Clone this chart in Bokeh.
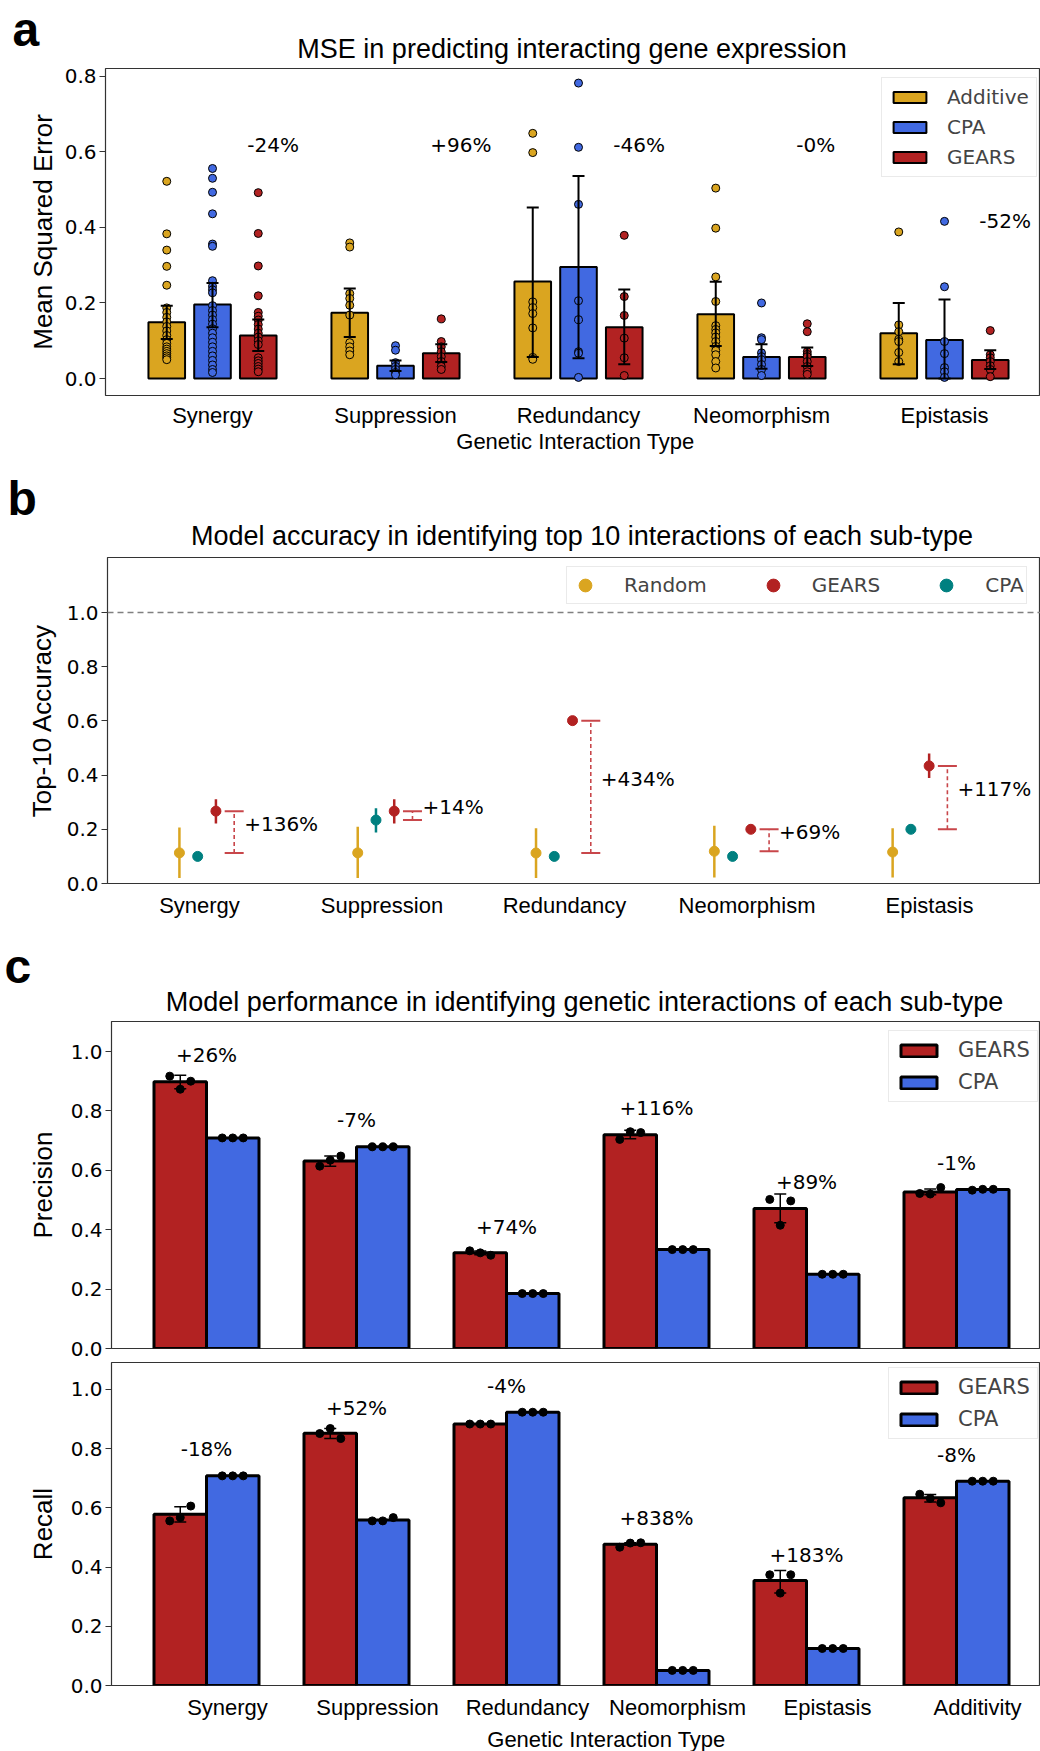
import numpy as np
from bokeh.plotting import figure
from bokeh.layouts import column
from bokeh.models import (Range1d, FixedTicker, PrintfTickFormatter, CustomJSTickFormatter,
                          Label, Legend, LegendItem, Span)
from bokeh.core.properties import value
from bokeh.embed import file_html
from bokeh.resources import INLINE

# ---------------------------------------------------------------- data
# (a) MSE per interaction type
mse_types = ["Synergy", "Suppression", "Redundancy", "Neomorphism", "Epistasis"]
mse_additive = [0.149, 0.174, 0.257, 0.170, 0.120]
mse_cpa = [0.196, 0.034, 0.295, 0.057, 0.102]
mse_gears = [0.114, 0.067, 0.136, 0.057, 0.049]
mse_additive_lo = [0.105, 0.110, 0.057, 0.086, 0.038]
mse_additive_hi = [0.193, 0.238, 0.453, 0.256, 0.200]
mse_cpa_lo = [0.136, 0.020, 0.054, 0.026, 0.000]
mse_cpa_hi = [0.253, 0.048, 0.536, 0.091, 0.209]
mse_gears_lo = [0.073, 0.044, 0.038, 0.033, 0.025]
mse_gears_hi = [0.156, 0.091, 0.236, 0.082, 0.075]
mse_additive_pts = [
    [0.522, 0.383, 0.340, 0.297, 0.247, 0.187, 0.175, 0.162, 0.150, 0.138, 0.126, 0.114,
     0.103, 0.093, 0.084, 0.078, 0.072, 0.066, 0.060, 0.055, 0.050],
    [0.359, 0.348, 0.225, 0.212, 0.194, 0.168, 0.095, 0.084, 0.073, 0.063],
    [0.649, 0.598, 0.203, 0.188, 0.172, 0.134, 0.056, 0.051],
    [0.504, 0.398, 0.269, 0.204, 0.140, 0.130, 0.121, 0.110, 0.098, 0.085, 0.074, 0.063,
     0.045, 0.028],
    [0.388, 0.142, 0.124, 0.104, 0.098, 0.069, 0.045],
]
mse_cpa_pts = [
    [0.556, 0.530, 0.493, 0.436, 0.356, 0.350, 0.259, 0.244, 0.235, 0.227, 0.193, 0.180,
     0.168, 0.156, 0.144, 0.132, 0.120, 0.108, 0.096, 0.084, 0.072, 0.060, 0.048, 0.036,
     0.024, 0.016],
    [0.087, 0.075, 0.042, 0.032, 0.024, 0.016, 0.010],
    [0.782, 0.612, 0.461, 0.206, 0.156, 0.071, 0.067, 0.003],
    [0.200, 0.108, 0.103, 0.068, 0.058, 0.050, 0.037, 0.024, 0.008],
    [0.416, 0.243, 0.098, 0.066, 0.029, 0.018, 0.003],
]
mse_gears_pts = [
    [0.492, 0.384, 0.298, 0.219, 0.175, 0.165, 0.155, 0.143, 0.131, 0.120, 0.110, 0.100,
     0.090, 0.055, 0.047, 0.040, 0.032, 0.025, 0.018],
    [0.158, 0.098, 0.084, 0.071, 0.058, 0.045, 0.032, 0.024],
    [0.379, 0.217, 0.167, 0.107, 0.055, 0.008],
    [0.145, 0.124, 0.071, 0.064, 0.058, 0.045, 0.032, 0.018, 0.011],
    [0.127, 0.063, 0.055, 0.045, 0.034, 0.024, 0.005],
]
mse_change = ["-24%", "+96%", "-46%", "-0%", "-52%"]
mse_change_y = [0.618, 0.618, 0.618, 0.618, 0.416]

# (b) top-10 accuracy
acc_random = [0.113, 0.113, 0.1125, 0.119, 0.116]
acc_random_lo = [0.020, 0.020, 0.020, 0.022, 0.022]
acc_random_hi = [0.207, 0.209, 0.204, 0.213, 0.204]
acc_gears = [0.267, 0.267, 0.601, 0.200, 0.434]
acc_gears_lo = [0.221, 0.221, 0.601, 0.200, 0.389]
acc_gears_hi = [0.311, 0.311, 0.601, 0.200, 0.480]
acc_cpa = [0.100, 0.234, 0.100, 0.100, 0.200]
acc_cpa_lo = [0.100, 0.188, 0.100, 0.100, 0.200]
acc_cpa_hi = [0.100, 0.278, 0.100, 0.100, 0.200]
acc_gain = ["+136%", "+14%", "+434%", "+69%", "+117%"]

# (c) precision / recall
gi_types = ["Synergy", "Suppression", "Redundancy", "Neomorphism", "Epistasis", "Additivity"]
prec_gears = [0.898, 0.631, 0.322, 0.720, 0.471, 0.527]
prec_cpa = [0.709, 0.679, 0.185, 0.333, 0.250, 0.535]
prec_gears_lo = [0.875, 0.614, 0.316, 0.706, 0.423, 0.518]
prec_gears_hi = [0.920, 0.648, 0.328, 0.735, 0.520, 0.537]
prec_gears_pts = [[0.917, 0.873, 0.900], [0.614, 0.634, 0.648], [0.329, 0.322, 0.314],
                  [0.704, 0.730, 0.727], [0.502, 0.415, 0.497], [0.522, 0.520, 0.542]]
prec_cpa_pts = [[0.709, 0.709, 0.709], [0.679, 0.679, 0.679], [0.185, 0.185, 0.185],
                [0.333, 0.333, 0.333], [0.250, 0.250, 0.250], [0.533, 0.536, 0.536]]
prec_change = ["+26%", "-7%", "+74%", "+116%", "+89%", "-1%"]
prec_change_y = [0.988, 0.769, 0.410, 0.810, 0.561, 0.625]

rec_gears = [0.578, 0.852, 0.883, 0.477, 0.355, 0.634]
rec_cpa = [0.708, 0.559, 0.923, 0.051, 0.125, 0.690]
rec_gears_lo = [0.552, 0.834, 0.883, 0.474, 0.312, 0.620]
rec_gears_hi = [0.604, 0.868, 0.883, 0.482, 0.388, 0.645]
rec_gears_pts = [[0.556, 0.567, 0.606], [0.851, 0.868, 0.834], [0.883, 0.883, 0.883],
                 [0.467, 0.481, 0.482], [0.374, 0.312, 0.374], [0.646, 0.632, 0.617]]
rec_cpa_pts = [[0.708, 0.708, 0.708], [0.556, 0.556, 0.567], [0.923, 0.923, 0.923],
               [0.051, 0.051, 0.051], [0.125, 0.125, 0.125], [0.690, 0.690, 0.690]]
rec_change = ["-18%", "+52%", "-4%", "+838%", "+183%", "-8%"]
rec_change_y = [0.798, 0.937, 1.013, 0.565, 0.441, 0.778]

# ---------------------------------------------------------------- style
W = 1040
SANS = "Liberation Sans"
NUM = "DejaVu Sans"
GOLD, BLUE, RED, TEAL = "#DAA520", "#4169E1", "#B22222", "#008080"
SPINE = "#333333"
MID = 0.3465  # centre of the em box above the baseline, in em


def strip(top, height, texts):
    """A plain band of text (panel letters, titles, x-axis captions); page px coords,
    each text given by its baseline."""
    p = figure(width=W, height=height, x_range=Range1d(0, W),
               y_range=Range1d(top + height, top),
               x_axis_location=None, y_axis_location=None,
               output_backend="svg", toolbar_location=None, frame_align=False,
               min_border=0, min_border_left=0, min_border_right=0,
               min_border_top=0, min_border_bottom=0,
               background_fill_color="white", border_fill_color="white")
    p.outline_line_color = None
    p.grid.visible = False
    for x, y, s, size, bold, align in texts:
        p.text(x=[x], y=[y - MID * size], text=[s], text_font=value(SANS),
               text_font_size=f"{size}px",
               text_font_style="bold" if bold else "normal", text_align=align,
               text_baseline="middle", text_color="black")
    return p


class Panel:
    """Figure whose frame sits at known page pixels; maps page px to data."""

    def __init__(self, top, height, frame, x0, sx, y0, sy, label_gap=10):
        left, right, ftop, fbot = frame
        self.x0, self.sx, self.y0, self.sy = x0, sx, y0, sy
        self.fig = figure(
            width=W, height=height,
            x_range=Range1d(self.X(left), self.X(right)),
            y_range=Range1d(self.Y(fbot), self.Y(ftop)),
            output_backend="svg", toolbar_location=None, frame_align=False,
            min_border_left=left, min_border_right=W - right,
            min_border_top=ftop - top, min_border_bottom=top + height - fbot,
            background_fill_color="white", border_fill_color="white",
        )
        p = self.fig
        p.grid.visible = False
        p.outline_line_color = SPINE
        p.outline_line_width = 1.2
        for ax in (p.xaxis[0], p.yaxis[0]):
            ax.axis_line_color = None
            ax.minor_tick_line_color = None
        y = p.yaxis[0]
        y.formatter = PrintfTickFormatter(format="%.1f")
        y.major_label_text_font = NUM
        y.major_label_text_font_size = "20px"
        y.major_label_text_color = "black"
        y.major_tick_out = 6
        y.major_tick_in = 0
        y.major_tick_line_color = SPINE
        y.major_tick_line_width = 1.2
        y.major_label_standoff = 3
        y.axis_label_text_font = SANS
        y.axis_label_text_font_size = "26px"
        y.axis_label_text_font_style = "normal"
        y.axis_label_text_color = "black"
        y.axis_label_standoff = label_gap
        x = p.xaxis[0]
        x.major_tick_line_color = None
        x.major_label_text_font = SANS
        x.major_label_text_font_size = "22px"
        x.major_label_text_color = "black"

    def X(self, px):
        return (px - self.x0) / self.sx

    def Y(self, py):
        return (self.y0 - py) / self.sy


def category_axis(p, ticks, names, standoff):
    ax = p.xaxis[0]
    ax.ticker = FixedTicker(ticks=list(ticks))
    ax.formatter = CustomJSTickFormatter(args=dict(names=names), code="return names[index]")
    ax.major_label_standoff = standoff


def errorbars(p, xs, lo, hi, cap, color, width):
    p.segment(x0=xs, y0=lo, x1=xs, y1=hi, line_color=color, line_width=width)
    p.segment(x0=[x - cap for x in xs], y0=lo, x1=[x + cap for x in xs], y1=lo,
              line_color=color, line_width=width)
    p.segment(x0=[x - cap for x in xs], y0=hi, x1=[x + cap for x in xs], y1=hi,
              line_color=color, line_width=width)


# ---------------------------------------------------------------- panel a
head_a = strip(0, 65, [
    (12, 46, "a", 48, True, "left"),
    (571.5, 58, "MSE in predicting interacting gene expression", 27, False, "center"),
])

A = Panel(top=65, height=365, frame=(105, 1040, 68, 396), x0=212, sx=183, y0=379, sy=379,
          label_gap=4)
pa = A.fig
pa.yaxis.ticker = FixedTicker(ticks=[0.0, 0.2, 0.4, 0.6, 0.8])
pa.yaxis.axis_label = "Mean Squared Error"
category_axis(pa, range(len(mse_types)), mse_types, 1)

series_a = [
    ("Additive", GOLD, -0.25, mse_additive, mse_additive_lo, mse_additive_hi, mse_additive_pts),
    ("CPA", BLUE, 0.0, mse_cpa, mse_cpa_lo, mse_cpa_hi, mse_cpa_pts),
    ("GEARS", RED, 0.25, mse_gears, mse_gears_lo, mse_gears_hi, mse_gears_pts),
]
legend_a = []
for name, col, off, means, lo, hi, pts in series_a:
    xs = [i + off for i in range(len(means))]
    r = pa.vbar(x=xs, top=means, width=0.2, fill_color=col, line_color="black", line_width=2)
    legend_a.append(LegendItem(label=name, renderers=[r]))
    px = [xs[i] for i, grp in enumerate(pts) for _ in grp]
    py = [v for grp in pts for v in grp]
    pa.scatter(px, py, size=8, fill_color=col, line_color="black", line_width=1)
    errorbars(pa, xs, lo, hi, 6 / 183, "black", 2)

for i, s in enumerate(mse_change):
    pa.add_layout(Label(x=i + 0.19, y=mse_change_y[i], text=s, text_font=NUM,
                        text_font_size="20px", text_baseline="middle", text_color="black"))

pa.add_layout(Legend(items=legend_a, location=(776, 218), orientation="vertical",
                     glyph_width=41, glyph_height=14, label_height=22, spacing=6,
                     padding=7, margin=0, label_standoff=17,
                     label_text_font=NUM, label_text_font_size="20px",
                     border_line_color="#d6d6d6", border_line_width=1.2,
                     background_fill_alpha=0.85))

# ---------------------------------------------------------------- panel b
head_b = strip(430, 127, [
    (575, 449, "Genetic Interaction Type", 22, False, "center"),
    (7, 515, "b", 48, True, "left"),
    (581.5, 545, "Model accuracy in identifying top 10 interactions of each sub-type",
     27, False, "center"),
])

B = Panel(top=557, height=368, frame=(107, 1040, 557, 883), x0=199, sx=182.5, y0=883, sy=271,
          label_gap=7)
pb = B.fig
pb.yaxis.ticker = FixedTicker(ticks=[0.0, 0.2, 0.4, 0.6, 0.8, 1.0])
pb.yaxis.axis_label = "Top-10 Accuracy"
category_axis(pb, range(len(mse_types)), mse_types, 3)

pb.add_layout(Span(location=1.0, dimension="width", line_color="#808080",
                   line_dash="6 4", line_width=1.5))

step_b = 0.977
series_b = [
    ("Random", GOLD, -0.11, acc_random, acc_random_lo, acc_random_hi),
    ("GEARS", RED, 0.09, acc_gears, acc_gears_lo, acc_gears_hi),
    ("CPA", TEAL, -0.01, acc_cpa, acc_cpa_lo, acc_cpa_hi),
]
legend_b = []
for name, col, off, vals, lo, hi in series_b:
    xs = [i * step_b + off for i in range(len(vals))]
    pb.segment(x0=xs, y0=lo, x1=xs, y1=hi, line_color=col, line_width=2.5)
    r = pb.scatter(xs, vals, size=10, fill_color=col, line_color=col)
    legend_b.append(LegendItem(label=name, renderers=[r]))

# bracket from GEARS down to the better baseline
bx = [i * step_b + 0.19 for i in range(len(acc_gears))]
base = [max(a, b) for a, b in zip(acc_random, acc_cpa)]
hw = 9.5 / 182.5
bracket_col = "#C8464A"
pb.segment(x0=bx, y0=base, x1=bx, y1=acc_gears, line_color=bracket_col,
           line_width=1.6, line_dash="4 3")
pb.segment(x0=[x - hw for x in bx], y0=acc_gears, x1=[x + hw for x in bx], y1=acc_gears,
           line_color=bracket_col, line_width=2)
pb.segment(x0=[x - hw for x in bx], y0=base, x1=[x + hw for x in bx], y1=base,
           line_color=bracket_col, line_width=2)
for i, s in enumerate(acc_gain):
    pb.add_layout(Label(x=bx[i] + 10 / 182.5, y=(acc_gears[i] + base[i]) / 2 + 0.03, text=s,
                        text_font=NUM, text_font_size="20px", text_baseline="middle",
                        text_color="black"))

pb.add_layout(Legend(items=legend_b, location=(459, 279), orientation="horizontal",
                     glyph_width=32, glyph_height=32, label_height=22, spacing=50,
                     padding=2, margin=0, label_standoff=23,
                     label_text_font=NUM, label_text_font_size="20px",
                     border_line_color="#d6d6d6", border_line_width=1.2,
                     background_fill_alpha=0.85))


# ---------------------------------------------------------------- panel c
def bar_pairs(P, gears, cpa, lo, hi, gpts, cpts, changes, change_y, ylabel):
    p = P.fig
    p.yaxis.ticker = FixedTicker(ticks=[0.0, 0.2, 0.4, 0.6, 0.8, 1.0])
    p.yaxis.axis_label = ylabel
    n = len(gears)
    jitter = [-0.07, 0.0, 0.07]
    items = []
    for name, col, off, vals, pts in (("GEARS", RED, -0.175, gears, gpts),
                                      ("CPA", BLUE, 0.175, cpa, cpts)):
        xs = [i + off for i in range(n)]
        r = p.vbar(x=xs, top=vals, width=0.35, fill_color=col, line_color="black",
                   line_width=3)
        items.append(LegendItem(label=name, renderers=[r]))
        px = [xs[i] + jitter[k] for i, grp in enumerate(pts) for k, _ in enumerate(grp)]
        py = [v for grp in pts for v in grp]
        p.scatter(px, py, size=8, fill_color="black", line_color="black")
    gx = [i - 0.175 for i in range(n)]
    errorbars(p, gx, lo, hi, 6 / 150, "black", 1.5)
    for i, s in enumerate(changes):
        p.add_layout(Label(x=i, y=change_y[i], text=s, text_font=NUM, text_font_size="20px",
                           text_align="center", text_baseline="middle", text_color="black"))
    p.add_layout(Legend(items=items, location=(777, 246), orientation="vertical",
                        glyph_width=45, glyph_height=15, label_height=24, spacing=8,
                        padding=7, margin=0, label_standoff=17,
                        label_text_font=NUM, label_text_font_size="21px",
                        border_line_color="#d6d6d6", border_line_width=1.2,
                        background_fill_alpha=0.85))


head_c = strip(925, 96, [
    (4, 983, "c", 48, True, "left"),
    (584, 1011, "Model performance in identifying genetic interactions of each sub-type",
     27, False, "center"),
])

C1 = Panel(top=1021, height=340, frame=(111, 1040, 1021, 1348), x0=206, sx=150, y0=1348, sy=297)
C1.fig.xaxis.visible = False
bar_pairs(C1, prec_gears, prec_cpa, prec_gears_lo, prec_gears_hi, prec_gears_pts,
          prec_cpa_pts, prec_change, prec_change_y, "Precision")

C2 = Panel(top=1361, height=361, frame=(111, 1040, 1362, 1686), x0=206, sx=150, y0=1686, sy=297)
category_axis(C2.fig, [i + 0.14 for i in range(len(gi_types))], gi_types, 3)
bar_pairs(C2, rec_gears, rec_cpa, rec_gears_lo, rec_gears_hi, rec_gears_pts,
          rec_cpa_pts, rec_change, rec_change_y, "Recall")

foot_c = strip(1722, 29, [
    (606, 1747, "Genetic Interaction Type", 22, False, "center"),
])

layout = column(head_a, A.fig, head_b, B.fig, head_c, C1.fig, C2.fig, foot_c, spacing=0)
open("out.html", "w").write(file_html(layout, INLINE))
